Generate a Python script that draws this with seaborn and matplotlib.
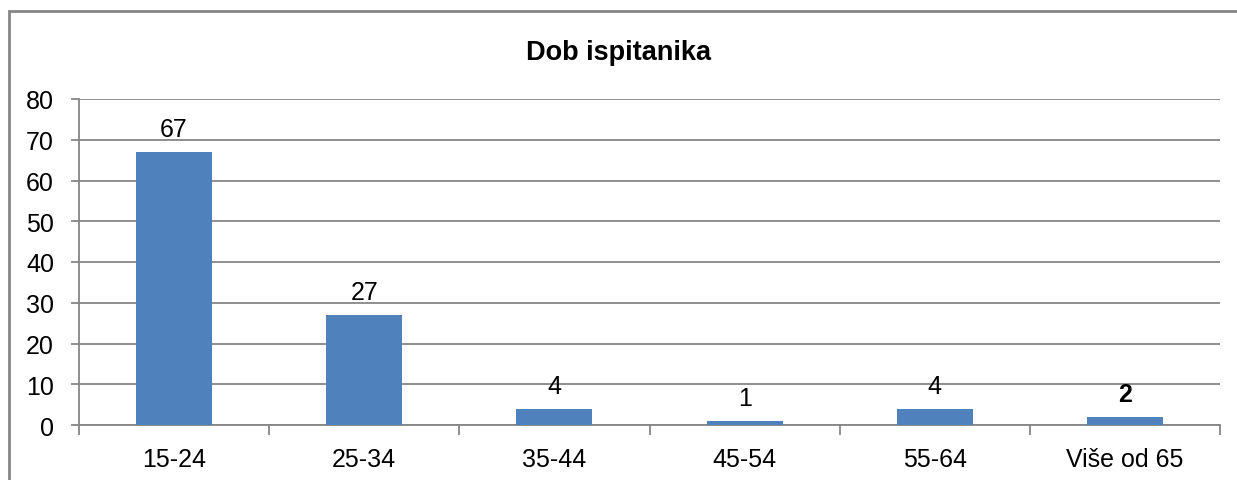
import matplotlib
matplotlib.use("Agg")
import matplotlib.pyplot as plt
import matplotlib.patches as mpatches
import numpy as np
import pandas as pd
import seaborn as sns

categories = ["15-24", "25-34", "35-44", "45-54", "55-64", "Više od 65"]
counts = [67, 27, 4, 1, 4, 2]
title = "Dob ispitanika"

sns.set_theme(style="white")
plt.rcParams["font.family"] = ["Liberation Sans", "DejaVu Sans"]

grid_col = "#868686"
bar_col = "#4F81BD"

df = pd.DataFrame({"age": categories, "count": counts})

fig = plt.figure(figsize=(12.37, 4.81), dpi=100)
ax = fig.add_axes([79 / 1237, 1 - 426 / 481, (1220 - 79) / 1237, (426 - 100) / 481])

sns.barplot(data=df, x="age", y="count", color=bar_col, width=0.4,
            saturation=1, linewidth=0, ax=ax, zorder=3)

ax.set_ylim(0, 80)
ax.set_xlim(-0.5, len(categories) - 0.5)
ax.set_yticks(np.arange(0, 81, 10))
ax.yaxis.grid(True, color=grid_col, linewidth=1.3, zorder=0)
ax.set_axisbelow(True)
ax.set_xlabel("")
ax.set_ylabel("")

for side in ["top", "right"]:
    ax.spines[side].set_visible(False)
for side in ["left", "bottom"]:
    ax.spines[side].set_color(grid_col)
    ax.spines[side].set_linewidth(1.3)

ax.tick_params(axis="y", length=6, width=1.3, color=grid_col, labelsize=18,
               labelcolor="black", pad=12, left=True)
ax.tick_params(axis="x", which="major", length=0, labelsize=18,
               labelcolor="black", pad=16)
ax.set_xticks(np.arange(-0.5, len(categories), 1), minor=True)
ax.tick_params(axis="x", which="minor", length=7, width=1.3, color=grid_col,
               bottom=True)

texts = ax.bar_label(ax.containers[0], labels=[str(v) for v in counts],
                     fontsize=18, padding=8, color="black")
texts[-1].set_fontweight("bold")

fig.text(0.5, 1 - 53 / 481, title, ha="center", va="center",
         fontsize=19.5, fontweight="bold", color="black")

frame = mpatches.Rectangle((9 / 1237, -0.05), 1.1, 1 - 12 / 481 + 0.05,
                           transform=fig.transFigure, fill=False,
                           edgecolor=grid_col, linewidth=2, clip_on=False)
fig.patches.append(frame)

fig.savefig("out.png", dpi=100)
plt.close(fig)
